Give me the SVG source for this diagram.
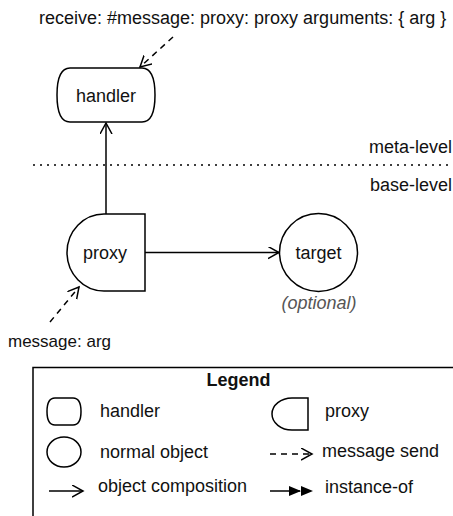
<svg xmlns="http://www.w3.org/2000/svg" width="453" height="516" viewBox="0 0 453 516">
<style>
text{font-family:"Liberation Sans",Arial,sans-serif;font-size:18px;fill:#111}
.shape{fill:#fff;stroke:#000;stroke-width:1.5}
.line{fill:none;stroke:#000;stroke-width:1.5}
.dash{fill:none;stroke:#000;stroke-width:1.5;stroke-dasharray:6 5}
.c{text-anchor:middle}
</style>
<defs>
<marker id="open" markerUnits="userSpaceOnUse" markerWidth="14" markerHeight="14" refX="11" refY="6" orient="auto">
<path d="M0,0 L11,6 L0,12" fill="none" stroke="#000" stroke-width="1.5"/>
</marker>
</defs>
<rect width="453" height="516" fill="#fff"/>
<text x="39" y="24">receive: #message: proxy: proxy arguments: { arg }</text>
<line x1="33" y1="165" x2="453" y2="165" stroke="#000" stroke-width="1.5" stroke-dasharray="2 5"/>
<text x="452" y="153" text-anchor="end">meta-level</text>
<text x="452" y="191" text-anchor="end">base-level</text>
<g id="connectors">
<line class="line" x1="106" y1="214" x2="106" y2="123" marker-end="url(#open)"/>
<line class="line" x1="145" y1="252.5" x2="279" y2="252.5" marker-end="url(#open)"/>
<line class="dash" x1="173" y1="37" x2="140" y2="67" marker-end="url(#open)"/>
<line class="dash" x1="50" y1="322" x2="79" y2="287" marker-end="url(#open)"/>
</g>
<g id="handler">
<path class="shape" d="M70,68 H142 C152,68 155,80 155,95 C155,110 152,122 142,122 H70 C60,122 57,110 57,95 C57,80 60,68 70,68 Z"/>
<text class="c" x="106" y="101.5">handler</text>
</g>
<g id="proxy">
<path class="shape" d="M104,214 H145 V291 H104 A37,38.5 0 0 1 104,214 Z"/>
<text class="c" x="105" y="258.5">proxy</text>
</g>
<g id="target">
<circle class="shape" cx="318.5" cy="252.5" r="39"/>
<text class="c" x="318.5" y="258.5">target</text>
<text class="c" x="319" y="309" style="font-style:italic;fill:#555">(optional)</text>
</g>
<text x="8" y="347" style="font-size:17px">message: arg</text>
<g id="legend">
<rect x="33" y="367.5" width="430" height="200" fill="none" stroke="#000" stroke-width="1.5"/>
<text class="c" x="238.5" y="386" style="font-weight:bold">Legend</text>
<path class="shape" d="M55,398 H73 C79,398 81,404 81,411.5 C81,419 79,425 73,425 H55 C49,425 47,419 47,411.5 C47,404 49,398 55,398 Z"/>
<text x="100" y="417">handler</text>
<path class="shape" d="M292,398 H308 V430 H292 A20,16 0 0 1 292,398 Z"/>
<text x="325" y="417">proxy</text>
<ellipse class="shape" cx="64" cy="452" rx="17" ry="15"/>
<text x="100" y="458">normal object</text>
<line class="dash" x1="270" y1="454" x2="312" y2="454" stroke-dasharray="5 4" marker-end="url(#open)"/>
<text x="322" y="457">message send</text>
<line class="line" x1="49" y1="491" x2="83" y2="491" marker-end="url(#open)"/>
<text x="98" y="492">object composition</text>
<line class="line" x1="270" y1="491" x2="300" y2="491"/>
<path d="M289,486 L301,491 L289,496 Z M301,486 L313,491 L301,496 Z" fill="#000"/>
<text x="325" y="493">instance-of</text>
</g>
</svg>
